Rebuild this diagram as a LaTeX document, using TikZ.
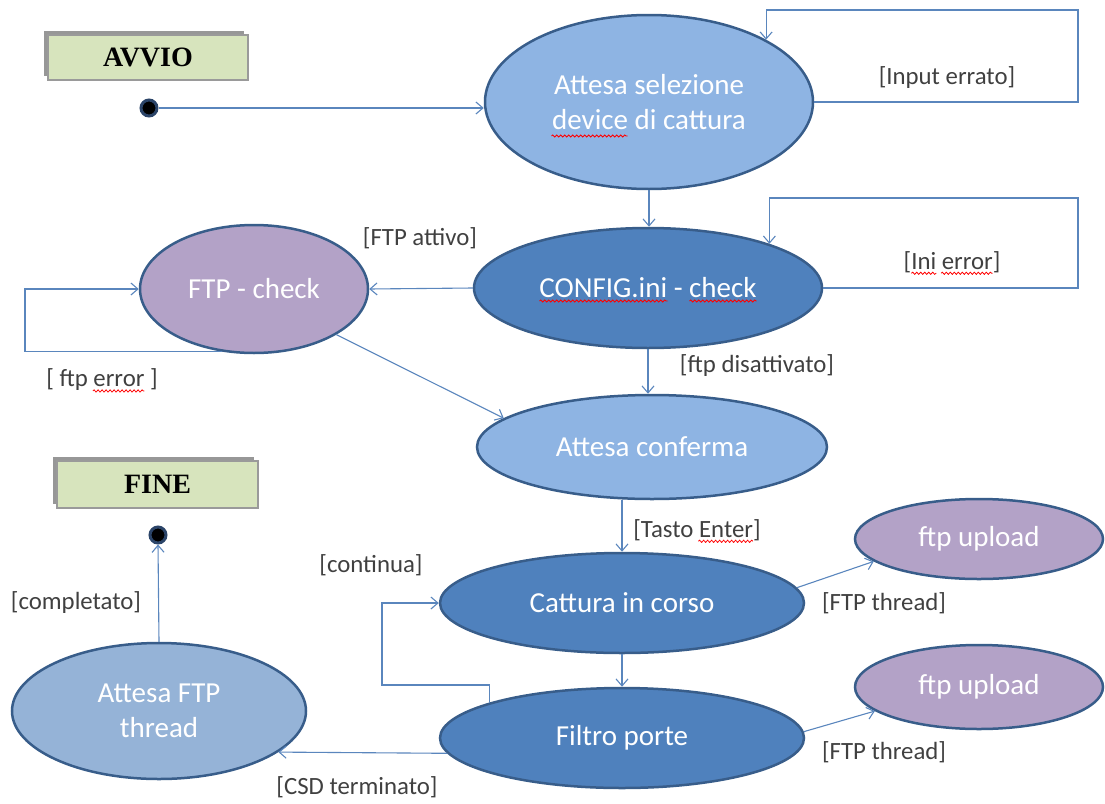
\documentclass[tikz,border=0pt]{standalone}
\usepackage{fontspec}
\setmainfont{Carlito}
\newfontfamily\boxfont{Liberation Serif}
\usetikzlibrary{arrows.meta,shapes.geometric,decorations.pathmorphing,calc,shadows}
\definecolor{darkfill}{HTML}{4F81BD}
\definecolor{lightfill}{HTML}{8EB4E3}
\definecolor{palefill}{HTML}{95B3D7}
\definecolor{purplefill}{HTML}{B3A2C7}
\definecolor{rim}{HTML}{385D8A}
\definecolor{wirecol}{HTML}{5A86BD}
\definecolor{labeltext}{HTML}{404040}
\definecolor{boxfill}{HTML}{D7E4BD}
\definecolor{boxrim}{HTML}{9A9A9A}
\definecolor{dotrim}{HTML}{2B4468}
\begin{document}
\begin{tikzpicture}[x=1pt,y=-1pt,
  state/.style={ellipse, draw=rim, line width=2.5pt, text=white,
    font=\fontsize{29}{35}\selectfont, align=center, inner sep=0pt},
  wire/.style={draw=wirecol, line width=1.1pt,
    -{Straight Barb[length=7pt,width=12pt,line width=1.1pt]}},
  guard/.style={text=labeltext, font=\fontsize{24.8}{29}\selectfont, inner sep=0pt},
  titlebox/.style={rectangle, fill=boxfill, draw=boxrim, line width=1.5pt,
    font=\boxfont\bfseries\fontsize{28}{34}\selectfont, inner sep=0pt,
    drop shadow={shadow xshift=-4pt, shadow yshift=4pt, fill=black!45, opacity=0.9}},
  pseudo/.style={circle, fill=black, draw=dotrim, line width=3pt,
    minimum size=16pt, inner sep=0pt},
  spell/.style={draw=red, line width=0.8pt, decorate,
    decoration={snake, amplitude=1.1pt, segment length=4pt}}]

\useasboundingbox (0,0) rectangle (1105,803);

% ---- states ----
\node[titlebox, minimum width=200pt, minimum height=45pt] (avvio) at (148,57.5) {AVVIO};
\node[pseudo] (start) at (149,108) {};
\node[state, fill=lightfill, minimum width=328pt, minimum height=174pt] (sel) at (649,102)
  {Attesa selezione\\device di cattura};
\node[state, fill=darkfill, minimum width=348pt, minimum height=120pt] (cfg) at (648,288)
  {CONFIG.ini - check};
\node[state, fill=purplefill, minimum width=228pt, minimum height=128pt] (ftpc) at (254,289)
  {FTP - check};
\node[state, fill=lightfill, minimum width=350pt, minimum height=104pt] (conf) at (652,447)
  {Attesa conferma};
\node[titlebox, minimum width=201pt, minimum height=47pt] (fine) at (157.5,484.5) {FINE};
\node[pseudo] (end) at (158,535) {};
\node[state, fill=palefill, minimum width=294pt, minimum height=136pt] (wait) at (159,711)
  {Attesa FTP\\thread};
\node[state, fill=darkfill, minimum width=364pt, minimum height=100pt] (capt) at (622,603)
  {Cattura in corso};
\node[state, fill=darkfill, minimum width=364pt, minimum height=100pt] (filt) at (622,738)
  {Filtro porte};
\node[state, fill=purplefill, minimum width=248pt, minimum height=80pt] (up1) at (979,539)
  {ftp upload};
\node[state, fill=purplefill, minimum width=248pt, minimum height=84pt] (up2) at (979,687)
  {ftp upload};

% ---- guards ----
\node[guard] (g1) at (947,78) {[Input errato]};
\node[guard] (g2) at (952,262) {[Ini error]};
\node[guard] (g3) at (420,238) {[FTP attivo]};
\node[guard] (g4) at (102,380) {[ ftp error ]};
\node[guard] (g5) at (757,366) {[ftp disattivato]};
\node[guard] (g6) at (697,530) {[Tasto Enter]};
\node[guard] (g7) at (371,565) {[continua]};
\node[guard] (g8) at (76,603) {[completato]};
\node[guard] (g9) at (884,603) {[FTP thread]};
\node[guard] (g10) at (884,752) {[FTP thread]};
\node[guard] (g11) at (357,787) {[CSD terminato]};

% ---- loop corners ----
\coordinate (c1) at (1078,10);
\coordinate (c2) at (1078,198);
\coordinate (c3) at (25,289);
\coordinate (c4) at (382,685);

% ---- transitions ----
\draw[wire] (start.east) -- (start -| sel.west);
\draw[wire] (sel.east) -| (c1) -| (sel.28);
\draw[wire] (sel.south) -- (sel.south |- cfg.north);
\draw[wire] (cfg.east) -| (c2) -| (cfg.20);
\draw[wire] (cfg.west) -- (ftpc.east);
\draw[wire] (ftpc.243) -| (c3) -- (ftpc.west);
\draw[wire] (ftpc.-29) -- (conf.169);
\draw[wire] (cfg.south) -- (cfg.south |- conf.north);
\draw[wire] (capt.north |- conf.south) -- (capt.north);
\draw[wire] (capt.south) -- (filt.north);
\draw[wire] (filt.165) |- (c4) |- (capt.west);
\draw[wire] (filt.185) -- (wait.-19.5);
\draw[wire] (wait.north) -- (end.south);
\draw[wire] (capt.5) -- (up1.192.5);
\draw[wire] (filt.2) -- (up2.193);

% ---- spell-check marks ----
\draw[spell] ($(sel.center)+(-97.5,34)$) -- ++(76,0);
\draw[spell] ($(cfg.center)+(-108.5,13)$) -- ++(128,0);
\draw[spell] ($(cfg.center)+(41.5,13)$) -- ++(67,0);
\draw[spell] ($(g2.base west)+(8,4)$) -- ++(25,0);
\draw[spell] ($(g2.base east)+(-59.5,4)$) -- ++(51.5,0);
\draw[spell] ($(g4.base east)+(-65,4)$) -- ++(51.5,0);
\draw[spell] ($(g6.base east)+(-62.5,4)$) -- ++(54.5,0);
\end{tikzpicture}
\end{document}
